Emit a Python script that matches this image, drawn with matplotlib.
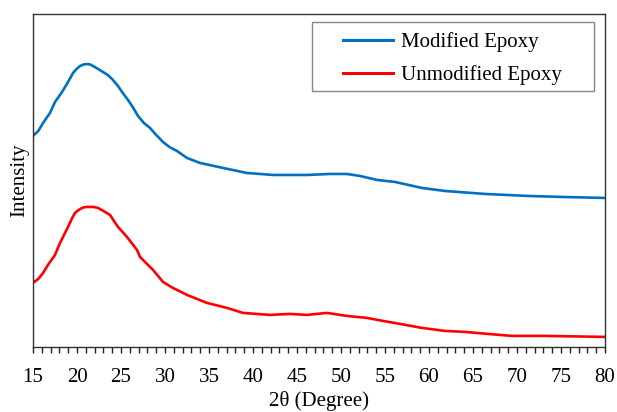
import matplotlib
matplotlib.use("Agg")
import matplotlib.pyplot as plt
from matplotlib.patches import Rectangle
from matplotlib.ticker import MultipleLocator

# diffraction angle (deg) and intensity (arbitrary units)
mod_2theta = [15.0, 15.6, 16.14, 16.93, 17.5, 18.3, 18.98, 19.55, 19.95, 20.34, 20.75,
              21.14, 21.5, 21.82, 22.4, 22.95, 23.5, 23.98, 24.66, 25.2, 25.8, 26.4,
              26.93, 27.6, 28.3, 29.0, 29.77, 30.5, 31.36, 32.5, 33.98,
              36.6, 39.3, 42.27, 46.14, 48.75, 50.68, 52.16, 54.1, 56.14, 59.2,
              61.8, 66.36, 71.25, 75.1, 80.0]
mod_int = [211, 216, 224, 234, 245, 255, 265, 274, 278, 281, 282.5,
           283, 282.5, 281, 278, 275, 272, 268, 261, 254, 247, 239,
           231, 224, 219, 212, 205, 200, 196, 189, 184,
           179, 174, 172, 172, 173, 173, 171, 167, 165, 159,
           156, 153, 151, 150, 149]

unmod_2theta = [15.0, 15.6, 16.14, 16.7, 17.5, 18.07, 18.98, 19.4, 19.77, 20.2, 20.57,
                21.0, 21.48, 21.9, 22.39, 23.0, 23.75, 24.2, 24.66, 25.68, 26.82,
                27.16, 28.64, 29.77, 30.9, 32.5, 34.77,
                37.05, 38.86, 41.93, 44.2, 46.14, 48.4, 50.68, 52.95, 54.77, 56.7,
                59.2, 61.8, 64.1, 66.7, 69.4, 73.2, 80.0]
unmod_int = [64, 68, 74, 82, 92, 104, 120, 128, 134, 137, 139,
             140, 140, 140, 139, 136, 132, 126, 120, 110, 97,
             90, 77, 65, 59, 52, 44,
             39, 34, 32, 33, 32, 34, 31, 29, 26, 23,
             19, 16, 15, 13, 11, 11, 10]

plt.rcParams["font.family"] = ["Liberation Serif", "DejaVu Serif"]

fig = plt.figure(figsize=(6.17, 4.12), dpi=100)
ax = fig.add_axes([0.0535, 0.158, 0.927, 0.808])

ax.plot(mod_2theta, mod_int, color="#0070C0", lw=1.9, label="Modified Epoxy")
ax.plot(unmod_2theta, unmod_int, color="#FF0000", lw=1.9, label="Unmodified Epoxy")

ax.set_xlim(15, 80)
ax.set_ylim(0, 333)
ax.xaxis.set_major_locator(MultipleLocator(5))
ax.xaxis.set_minor_locator(MultipleLocator(1))
ax.tick_params(axis="x", which="both", direction="out", length=4, width=1,
               labelsize=15, pad=11, colors="#222222", labelcolor="black")
ax.set_yticks([])

for s in ax.spines.values():
    s.set_color("#333333")
    s.set_linewidth(1.0)

ax.set_xlabel("2θ (Degree)", fontsize=15, labelpad=3)
ax.set_ylabel("Intensity", fontsize=15, labelpad=3)

# legend entries without frame; box drawn separately to get wide side margins
leg = ax.legend(loc="upper left", bbox_to_anchor=(0.556, 0.922),
                bbox_transform=fig.transFigure, fontsize=15, frameon=False,
                handlelength=2.4, handletextpad=0.4, borderpad=0,
                labelspacing=0.62, borderaxespad=0)
for h in leg.get_lines():
    h.set_linewidth(2.2)
fig.patches.append(Rectangle((0.5057, 0.779), 0.457, 0.1675,
                             transform=fig.transFigure, fill=False,
                             edgecolor="#888888", lw=1.0, zorder=5))

fig.savefig("out.png", dpi=100)
